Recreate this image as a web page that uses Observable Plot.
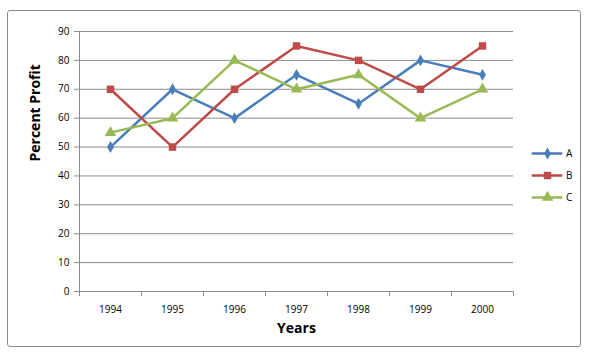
<!DOCTYPE html>
<html><head><meta charset="utf-8">
<script src="https://cdn.jsdelivr.net/npm/d3@7"></script>
<script src="https://cdn.jsdelivr.net/npm/@observablehq/plot@0.6"></script>
<style>
body{margin:0;background:#fff;font-family:"Open Sans",sans-serif;}
#wrap{position:relative;width:592px;height:354px;overflow:hidden;}
#border{position:absolute;left:7px;top:10px;width:572px;height:335px;border:1px solid #8c8c8c;border-radius:3px;}
#chart{position:absolute;left:0;top:0;}
#legend{position:absolute;left:530px;top:142px;font-size:10px;color:#000;}
#legend div{height:22px;display:flex;align-items:center;}
</style></head>
<body><div id="wrap"><div id="border"></div><div id="chart"></div><div id="legend"></div></div>
<script>
const years = ["1994","1995","1996","1997","1998","1999","2000"];
const seriesA = [50,70,60,75,65,80,75];
const seriesB = [70,50,70,85,80,70,85];
const seriesC = [55,60,80,70,75,60,70];
const names = ["A","B","C"];
const colors = ["#4A7EBB","#BE4B48","#98B954"];
const symbols = ["diamond","square","triangle"];
const markerR = [3.6,4.2,4.3];
const yTicks = [0,10,20,30,40,50,60,70,80,90];

const rows = [];
[seriesA,seriesB,seriesC].forEach((s,k)=>s.forEach((v,i)=>rows.push({i, year:years[i], value:v, name:names[k], r:markerR[k]})));
const bounds = d3.range(years.length+1).map(i=>i-0.5);

const plot = Plot.plot({
  width:592, height:354,
  marginLeft:79, marginRight:79, marginTop:31, marginBottom:63,
  style:{fontFamily:"'Open Sans',sans-serif", fontSize:"10px", color:"#000", background:"transparent"},
  x:{domain:[-0.5, years.length-0.5], axis:null},
  y:{domain:[0,90], axis:null},
  color:{domain:names, range:colors},
  symbol:{domain:names, range:symbols},
  r:{type:"identity"},
  marks:[
    Plot.ruleY(yTicks.filter(t=>t>0), {stroke:"#8c8c8c", strokeWidth:1}),
    Plot.ruleY([0], {stroke:"#8c8c8c"}),
    Plot.ruleX([-0.5], {stroke:"#8c8c8c"}),
    Plot.axisY({ticks:yTicks, tickSize:5, tickPadding:5, stroke:"#8c8c8c", label:null, anchor:"left", fontSize:10}),
    Plot.axisX({ticks:bounds, tickSize:5, tickFormat:()=>"", stroke:"#8c8c8c", label:null}),
    Plot.axisX({ticks:d3.range(years.length), tickSize:0, tickPadding:14, tickFormat:i=>years[i], label:null, fontSize:10}),
    Plot.line(rows, {x:"i", y:"value", z:"name", stroke:"name", strokeWidth:2.5}),
    Plot.dot(rows, {x:"i", y:"value", fill:"name", symbol:"name", r:"r", stroke:"none"}),
    Plot.text(["Percent Profit"], {frameAnchor:"left", dx:-44, rotate:-90, fontWeight:"bold", fontSize:14}),
    Plot.text(["Years"], {frameAnchor:"bottom", dy:41, fontWeight:"bold", fontSize:14})
  ]
});
document.getElementById("chart").appendChild(plot);

const leg = document.getElementById("legend");
names.forEach((n,k)=>{
  const d = document.createElement("div");
  const ms = Plot.plot({width:34, height:14, margin:0, x:{domain:[0,1],axis:null}, y:{domain:[0,1],axis:null},
    style:{background:"transparent"},
    marks:[Plot.ruleY([0.5],{x1:0.05,x2:0.95,stroke:colors[k],strokeWidth:2.5}),
           Plot.dot([0],{x:()=>0.5,y:()=>0.5,fill:colors[k],symbol:symbols[k],r:markerR[k]})]});
  d.appendChild(ms);
  const s = document.createElement("span"); s.textContent = n; s.style.marginLeft="2px";
  d.appendChild(s); leg.appendChild(d);
});
</script></body></html>
